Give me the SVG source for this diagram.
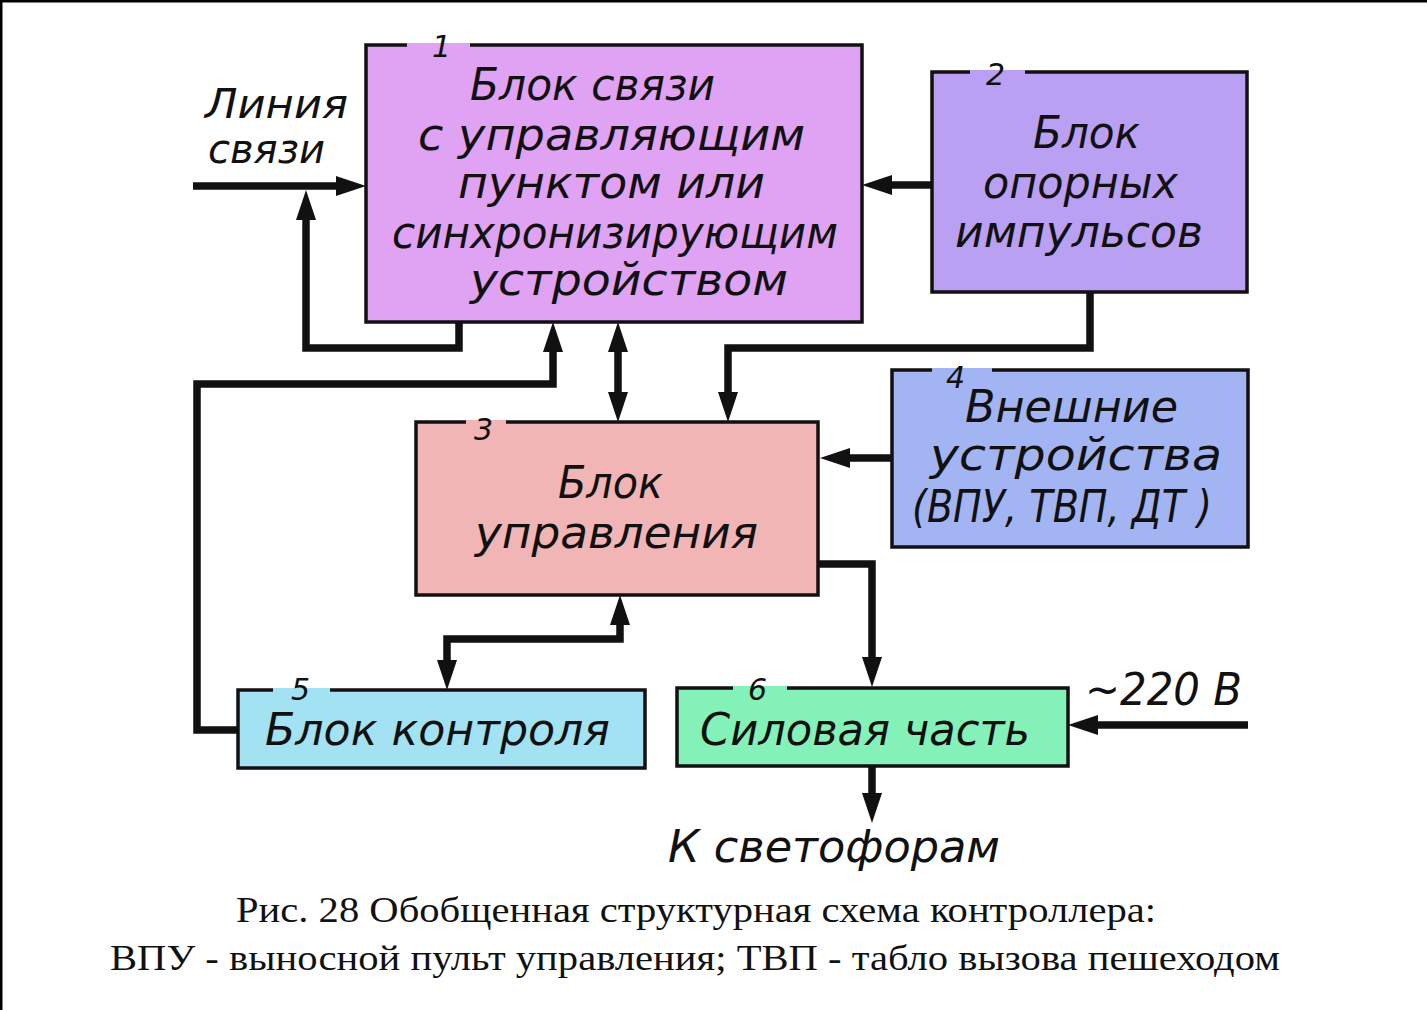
<svg xmlns="http://www.w3.org/2000/svg" width="1427" height="1010" viewBox="0 0 1427 1010">
<style>
.box{stroke:#111;stroke-width:3.5}
.t{font-family:"DejaVu Sans","Liberation Sans",sans-serif;font-style:italic;font-size:44px;fill:#111;text-anchor:start}
.s{font-size:40px}
.n{font-family:"DejaVu Sans","Liberation Sans",sans-serif;font-style:italic;font-size:30px;fill:#111}
.c{font-family:"Liberation Serif","Times New Roman",serif;font-size:36px;fill:#111}
.w{fill:none;stroke:#111;stroke-width:7.5;stroke-linejoin:miter;stroke-linecap:butt}
</style>
<defs>
<marker id="ah" viewBox="0 -10 30 20" markerWidth="30" markerHeight="20" refX="0" refY="0" markerUnits="userSpaceOnUse" orient="auto-start-reverse">
<path d="M0,-10 L30,0 L0,10 Z" fill="#111"/>
</marker>
</defs>
<rect width="1427" height="1010" fill="#fff"/>
<path d="M1,1010 V1 H1427" fill="none" stroke="#000" stroke-width="3"/>

<g id="connectors">
<path class="w" d="M193,186 H336" marker-end="url(#ah)"/>
<path class="w" d="M459,322 V348 H306 V220" marker-end="url(#ah)"/>
<path class="w" d="M238,730 H197 V384 H553 V352" marker-end="url(#ah)"/>
<path class="w" d="M618,352 V392" marker-start="url(#ah)" marker-end="url(#ah)"/>
<path class="w" d="M1090,292 V348 H728 V392" marker-end="url(#ah)"/>
<path class="w" d="M932,185 H892" marker-end="url(#ah)"/>
<path class="w" d="M892,458 H850" marker-end="url(#ah)"/>
<path class="w" d="M818,564 H872 V657" marker-end="url(#ah)"/>
<path class="w" d="M447,660 V639 H620 V625" marker-start="url(#ah)" marker-end="url(#ah)"/>
<path class="w" d="M1248,725 H1098" marker-end="url(#ah)"/>
<path class="w" d="M872,766 V793" marker-end="url(#ah)"/>
</g>

<g id="node1">
<rect class="box" x="366" y="45" width="496" height="277" fill="#e0a2f2"/>
<rect x="407" y="43" width="63" height="4.5" fill="#e0a2f2"/>
<text class="n" x="432" y="57">1</text>
<text class="t" x="470" y="100" textLength="245" lengthAdjust="spacingAndGlyphs">Блок связи</text>
<text class="t" x="418" y="150" textLength="387" lengthAdjust="spacingAndGlyphs">с управляющим</text>
<text class="t" x="458" y="198" textLength="307" lengthAdjust="spacingAndGlyphs">пунктом или</text>
<text class="t" x="392" y="248" textLength="446" lengthAdjust="spacingAndGlyphs">синхронизирующим</text>
<text class="t" x="470" y="295" textLength="318" lengthAdjust="spacingAndGlyphs">устройством</text>
</g>

<g id="node2">
<rect class="box" x="932" y="72" width="315" height="220" fill="#b9a0f2"/>
<rect x="970" y="70" width="55" height="4.5" fill="#b9a0f2"/>
<text class="n" x="986" y="85">2</text>
<text class="t" x="1033" y="148" textLength="107" lengthAdjust="spacingAndGlyphs">Блок</text>
<text class="t" x="983" y="198" textLength="195" lengthAdjust="spacingAndGlyphs">опорных</text>
<text class="t" x="955" y="247" textLength="248" lengthAdjust="spacingAndGlyphs">импульсов</text>
</g>

<g id="node3">
<rect class="box" x="416" y="422" width="402" height="173" fill="#f2b5b5"/>
<rect x="466" y="420" width="40" height="4.5" fill="#f2b5b5"/>
<text class="n" x="474" y="440">3</text>
<text class="t" x="558" y="498" textLength="105" lengthAdjust="spacingAndGlyphs">Блок</text>
<text class="t" x="475" y="548" textLength="283" lengthAdjust="spacingAndGlyphs">управления</text>
</g>

<g id="node4">
<rect class="box" x="892" y="370" width="356" height="177" fill="#a3b4f2"/>
<rect x="932" y="368" width="60" height="4.5" fill="#a3b4f2"/>
<text class="n" x="946" y="388">4</text>
<text class="t" x="965" y="422" textLength="213" lengthAdjust="spacingAndGlyphs">Внешние</text>
<text class="t" x="930" y="470" textLength="292" lengthAdjust="spacingAndGlyphs">устройства</text>
<text class="t" x="912" y="522" textLength="300" lengthAdjust="spacingAndGlyphs">(ВПУ, ТВП, ДТ )</text>
</g>

<g id="node5">
<rect class="box" x="238" y="690" width="407" height="78" fill="#a2e2f2"/>
<rect x="273" y="688" width="57" height="4.5" fill="#a2e2f2"/>
<text class="n" x="291" y="700">5</text>
<text class="t" x="265" y="745" textLength="345" lengthAdjust="spacingAndGlyphs">Блок контроля</text>
</g>

<g id="node6">
<rect class="box" x="677" y="688" width="391" height="78" fill="#84f2b8"/>
<rect x="733" y="686" width="54" height="4.5" fill="#84f2b8"/>
<text class="n" x="748" y="700">6</text>
<text class="t" x="700" y="745" textLength="330" lengthAdjust="spacingAndGlyphs">Силовая часть</text>
</g>

<g id="labels">
<text class="t s" x="205" y="118" textLength="143" lengthAdjust="spacingAndGlyphs">Линия</text>
<text class="t s" x="208" y="163" textLength="117" lengthAdjust="spacingAndGlyphs">связи</text>
<text class="t" x="1085" y="705" textLength="157" lengthAdjust="spacingAndGlyphs">~220 В</text>
<text class="t" x="668" y="862" textLength="332" lengthAdjust="spacingAndGlyphs">К светофорам</text>
<text class="c" x="236" y="922" textLength="920" lengthAdjust="spacingAndGlyphs">Рис. 28 Обобщенная структурная схема контроллера:</text>
<text class="c" x="110" y="970" textLength="1170" lengthAdjust="spacingAndGlyphs">ВПУ - выносной пульт управления; ТВП - табло вызова пешеходом</text>
</g>
</svg>
